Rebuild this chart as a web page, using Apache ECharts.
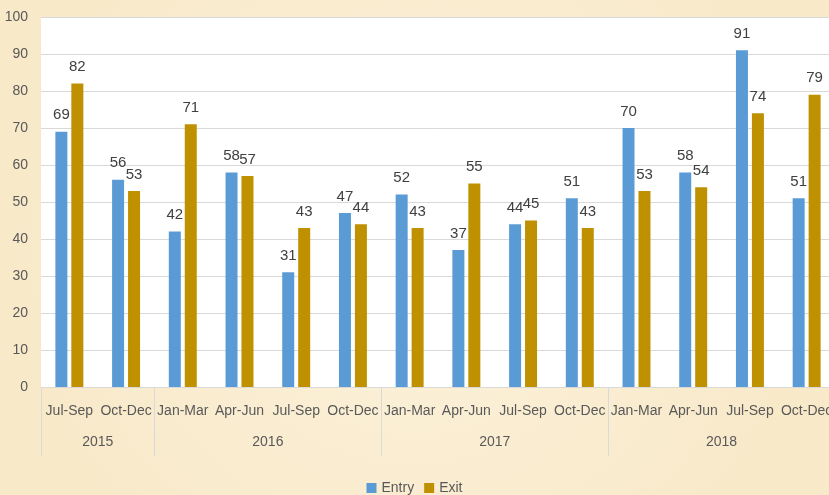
<!DOCTYPE html>
<html>
<head>
<meta charset="utf-8">
<script src="https://cdn.jsdelivr.net/npm/echarts@6/dist/echarts.min.js"></script>
<style>
html,body{margin:0;padding:0;background:#fbefd6;}
#c{width:829px;height:495px;}
</style>
</head>
<body>
<div id="c"></div>
<script>
var quarters = ['Jul-Sep','Oct-Dec','Jan-Mar','Apr-Jun','Jul-Sep','Oct-Dec','Jan-Mar','Apr-Jun','Jul-Sep','Oct-Dec','Jan-Mar','Apr-Jun','Jul-Sep','Oct-Dec'];
var yearLabels = ['', '2015', '', '', '2016', '', '', '', '2017', '', '', '', '2018', '', ''];
var yearStarts = [0, 2, 6, 10];
var entry = [69,56,42,58,31,47,52,37,44,51,70,58,91,51];
var exit = [82,53,71,57,43,44,43,55,45,43,53,54,74,79];
var yTicks = [0,10,20,30,40,50,60,70,80,90,100];

var font = '"Liberation Sans Narrow","Liberation Sans",sans-serif';
var chart = echarts.init(document.getElementById('c'));
chart.setOption({
  backgroundColor: {
    type: 'radial', x: 0.5, y: 0.5, r: 0.8,
    colorStops: [{offset: 0, color: '#fcf2dc'}, {offset: 1, color: '#f8e9c9'}]
  },
  animation: false,
  textStyle: {fontFamily: font},
  grid: {left: 41, top: 17, width: 794, bottom: 108, show: true, backgroundColor: '#ffffff', borderWidth: 0,
    containLabel: false, outerBoundsMode: 'none'},
  legend: {
    bottom: -5, left: 'center', itemWidth: 10, itemHeight: 10, itemGap: 10,
    icon: 'rect',
    textStyle: {color: '#595959', fontSize: 14, fontFamily: font},
    data: ['Entry', 'Exit']
  },
  xAxis: [{
    type: 'category', data: quarters, position: 'bottom',
    axisLine: {lineStyle: {color: '#d9d9d9'}},
    axisTick: {show: true, length: 69, lineStyle: {color: '#d9d9d9'},
      interval: function (i) { return yearStarts.indexOf(i) >= 0; }},
    axisLabel: {color: '#595959', fontSize: 14, margin: 17, interval: 0, fontFamily: font}
  }, {
    type: 'category', data: yearLabels, position: 'bottom', boundaryGap: false,
    axisLine: {show: false}, axisTick: {show: false},
    axisLabel: {color: '#595959', fontSize: 14, margin: 48, interval: 0, fontFamily: font}
  }],
  yAxis: {
    type: 'value', min: 0, max: 100, interval: 10,
    axisLine: {show: false}, axisTick: {show: false},
    splitLine: {lineStyle: {color: '#d9d9d9'}},
    axisLabel: {color: '#595959', fontSize: 14, margin: 13, fontFamily: font,
      formatter: function (v) { return yTicks.indexOf(v) >= 0 ? String(v) : ''; }}
  },
  series: [{
    name: 'Entry', type: 'bar', data: entry, barWidth: 12, barGap: '33%',
    itemStyle: {color: '#5b9bd5'},
    label: {show: true, position: 'top', distance: 9, color: '#404040', fontSize: 15, fontFamily: font}
  }, {
    name: 'Exit', type: 'bar', data: exit, barWidth: 12, barGap: '33%',
    itemStyle: {color: '#bf9000'},
    label: {show: true, position: 'top', distance: 9, color: '#404040', fontSize: 15, fontFamily: font}
  }]
});
</script>
</body>
</html>
